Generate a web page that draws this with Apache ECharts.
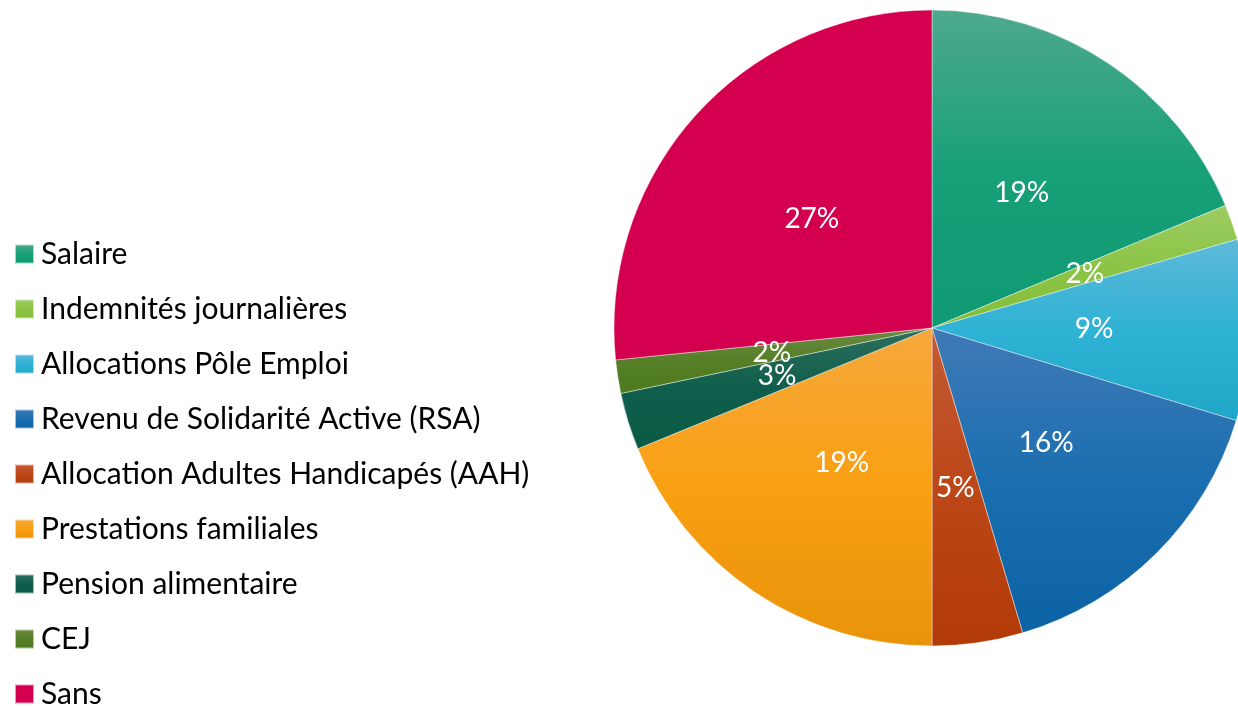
<!DOCTYPE html>
<html>
<head>
<meta charset="utf-8">
<script src="https://cdn.jsdelivr.net/npm/echarts@6/dist/echarts.min.js"></script>
<style>
  html, body { margin: 0; padding: 0; background: #fff; }
  #chart { width: 1238px; height: 706px; }
</style>
</head>
<body>
<div id="chart"></div>
<script>
const categories = [
  'Salaire',
  'Indemnités journalières',
  'Allocations Pôle Emploi',
  'Revenu de Solidarité Active (RSA)',
  'Allocation Adultes Handicapés (AAH)',
  'Prestations familiales',
  'Pension alimentaire',
  'CEJ',
  'Sans'
]
const values = [18.7, 1.8, 9.2, 15.7, 4.6, 18.8, 2.9, 1.7, 26.6]
// haut, milieu, bas de chaque dégradé
const colorTop = ['#4ea98d', '#9dcc62', '#5fb9d8', '#4079b6', '#c45a35', '#f5a83c', '#2e6e5d', '#6a8b40', '#d4004f']
const colorMid = ['#18a078', '#8cc447', '#2eb2d5', '#1b6fb0', '#bc4718', '#f99f12', '#0f5e4b', '#567f28', '#d4004f']
const colorBottom = ['#0f9a73', '#84bd37', '#20a7c8', '#0b62a4', '#b23a06', '#e8930a', '#0a5b46', '#4c7a1c', '#d4004f']

const chart = echarts.init(document.getElementById('chart'))
chart.setOption({
  animation: false,
  legend: {
    orient: 'vertical',
    left: 9,
    top: 234,
    height: 480,
    itemWidth: 19,
    itemHeight: 19,
    itemGap: 25,
    icon: 'rect',
    textStyle: {
      fontFamily: 'Lato',
      fontSize: 30,
      lineHeight: 30,
      color: '#000',
      padding: [0, 0, 0, 2]
    }
  },
  series: [
    {
      type: 'pie',
      center: [932, 328],
      radius: 318,
      startAngle: 90,
      clockwise: true,
      avoidLabelOverlap: false,
      labelLayout: { hideOverlap: false },
      data: categories.map((name, i) => ({
        name: name,
        value: values[i],
        itemStyle: {
          color: {
            type: 'linear',
            x: 0, y: 0, x2: 0, y2: 1,
            colorStops: [
              { offset: 0, color: colorTop[i] },
              { offset: 0.5, color: colorMid[i] },
              { offset: 1, color: colorBottom[i] }
            ]
          }
        }
      })),
      itemStyle: {
        borderColor: 'rgba(255,255,255,0.6)',
        borderWidth: 0.7
      },
      label: {
        show: true,
        position: 'inside',
        color: '#fff',
        fontFamily: 'Lato',
        fontSize: 28,
        lineHeight: 28,
        formatter: p => Math.round(p.percent) + '%'
      },
      labelLine: { show: false },
      emphasis: { disabled: true }
    }
  ]
})
</script>
</body>
</html>
